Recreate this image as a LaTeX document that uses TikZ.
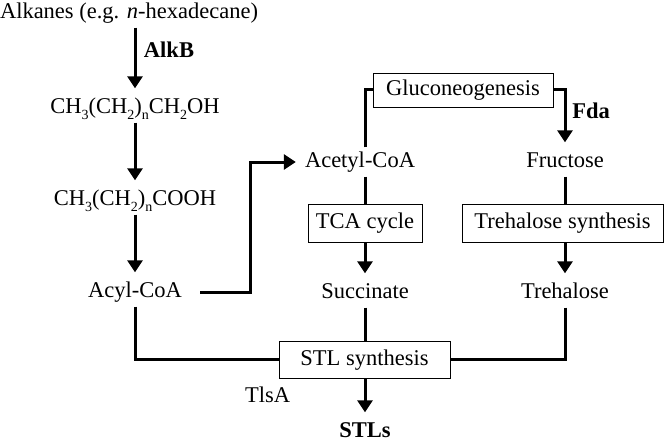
\documentclass[tikz,border=0pt]{standalone}
\usepackage{fontspec}
\setmainfont{Liberation Serif}
\usetikzlibrary{arrows.meta}
\newcommand{\chsub}[1]{\raisebox{-0.28em}{\fontsize{14}{14}\selectfont #1}}
\begin{document}
\begin{tikzpicture}[x=1pt,y=-1pt,
  txt/.style={font=\fontsize{22.5}{24}\selectfont, text height=16pt, text depth=5pt, inner xsep=4pt, inner ysep=4pt},
  bold/.style={txt, font=\fontsize{22.5}{24}\selectfont\bfseries},
  pbox/.style={txt, draw, line width=0.9pt, minimum height=38pt, inner xsep=0pt},
  conn/.style={line width=3pt},
  arr/.style={conn, -{Triangle[width=15pt,length=12pt]}, shorten >=5pt}]
\useasboundingbox (0,0) rectangle (666,441);
% left column
\node[txt] (alk) at (129,13) {Alkanes (e.g. \textit{n}-hexadecane)};
\node[txt] (alc) at (135,108) {CH\chsub{3}(CH\chsub{2})\chsub{n}CH\chsub{2}OH};
\node[txt] (acid) at (135,200) {CH\chsub{3}(CH\chsub{2})\chsub{n}COOH};
\node[txt] (acyl) at (135,292) {Acyl-CoA};
\node[bold] (alkb) at (169,52) {AlkB};
% middle and right
\node[txt] (acet) at (360,162) {Acetyl-CoA};
\node[pbox, minimum width=180pt, minimum height=34pt] (glu) at (463,90) {Gluconeogenesis};
\node[txt] (fru) at (565,162) {Fructose};
\node[bold] (fda) at (591,113) {Fda};
\node[pbox, minimum width=114pt] (tca) at (365,223) {TCA cycle};
\node[pbox, minimum width=201pt] (tres) at (562.5,223) {Trehalose synthesis};
\node[txt] (suc) at (365,293) {Succinate};
\node[txt] (treh) at (565,293) {Trehalose};
\node[pbox, minimum width=171pt, minimum height=37pt] (stl) at (364.5,359.5) {STL synthesis};
\node[bold] (stls) at (365,432) {STLs};
\node[txt] (tlsa) at (267.5,397) {TlsA};
\coordinate (k1) at (250,0);
% connectors
\draw[arr] (alc.north |- alk.south) -- (alc.north);
\draw[arr] (alc.south) -- (acid.north);
\draw[arr] (acid.south) -- (acyl.north);
\draw[arr, shorten <=14pt] (acyl.east) -| (k1 |- acet.west) -- (acet.west);
\draw[conn] (acet.north -| tca.north) |- (glu.west);
\draw[arr] (glu.east) -| (fru.north);
\draw[conn] (fru.south) -- (fru.south |- tres.north);
\draw[conn] (tca.north |- acet.south) -- (tca.north);
\draw[arr] (tca.south) -- (suc.north);
\draw[arr] (treh.north |- tres.south) -- (treh.north);
\draw[conn] (suc.south) -- (suc.south |- stl.north);
\draw[conn] (treh.south) |- (stl.east);
\draw[conn] (acyl.south) |- (stl.west);
\draw[arr] (stls.north |- stl.south) -- (stls.north);
\end{tikzpicture}
\end{document}
